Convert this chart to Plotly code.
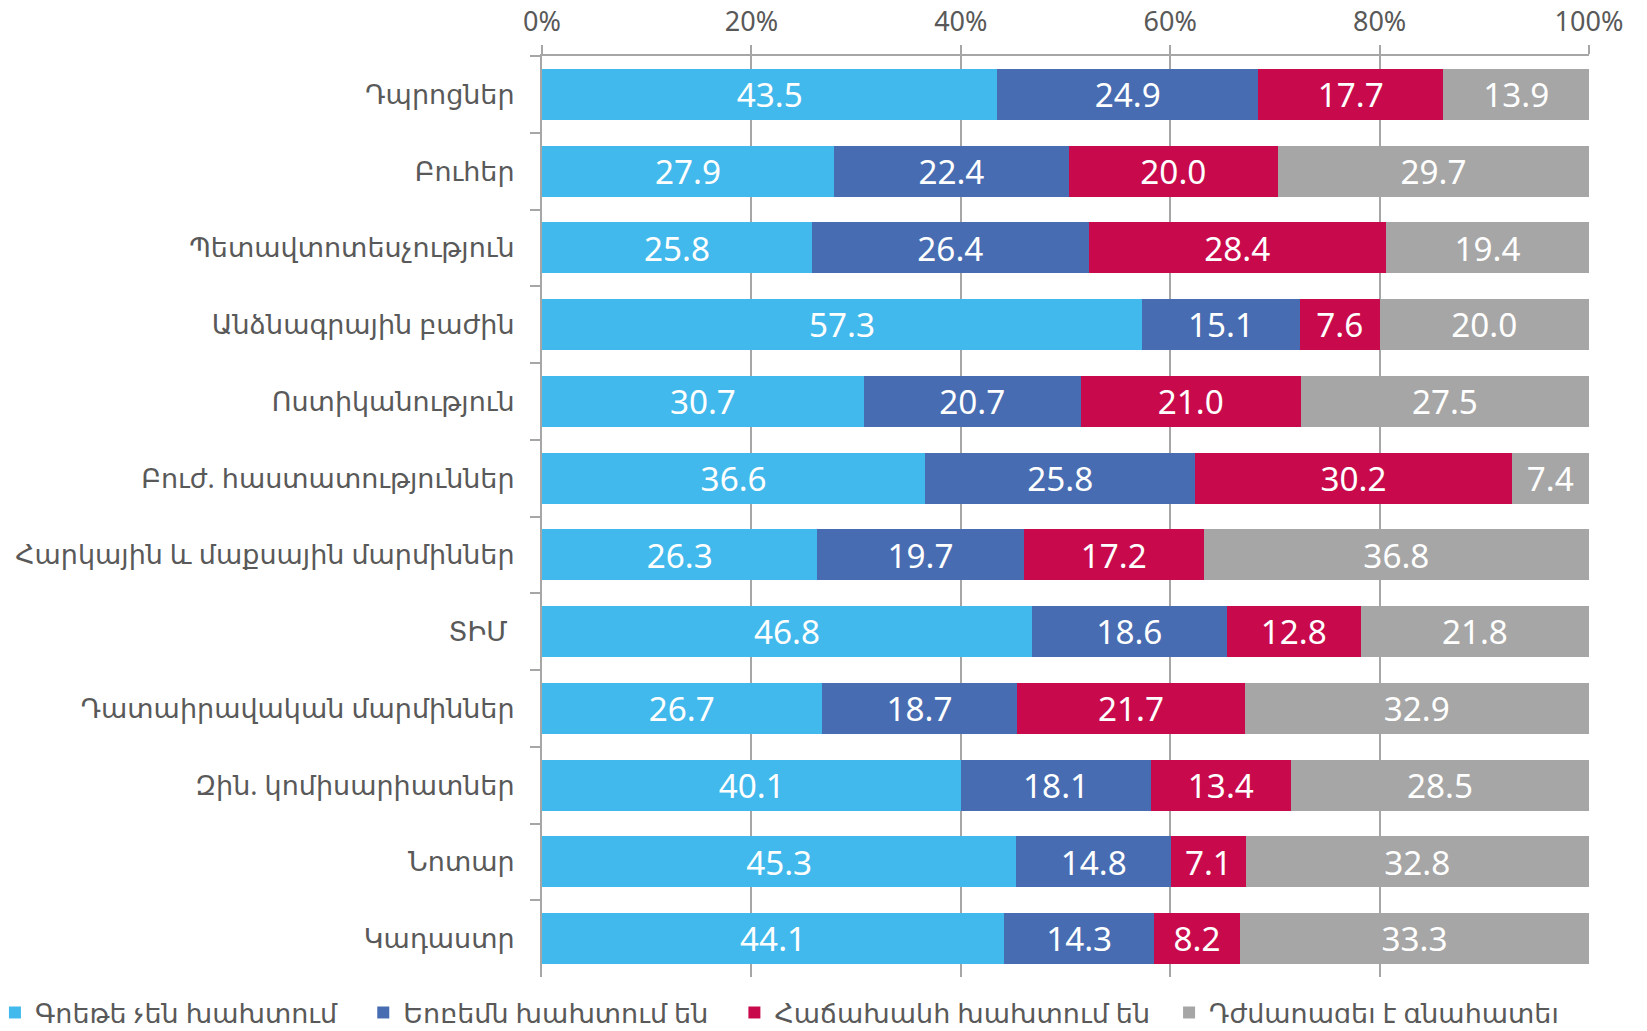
import plotly.graph_objects as go

categories = [
    "Դպրոցներ",
    "Բուհեր",
    "Պետավտոտեսչություն",
    "Անձնագրային բաժին",
    "Ոստիկանություն",
    "Բուժ. հաստատություններ",
    "Հարկային և մաքսային մարմիններ",
    "ՏԻՄ\u00a0",
    "Դատաիրավական մարմիններ",
    "Զին. կոմիսարիատներ",
    "Նոտար",
    "Կադաստր",
]

series_names = [
    "Գրեթե չեն խախտում",
    "Երբեմն խախտում են",
    "Հաճախակի խախտում են",
    "Դժվարացել է գնահատել",
]
# trailing non-breaking spaces widen the gap between legend entries
legend_pad = ["\u00a0\u00a0\u00a0", "\u00a0\u00a0\u00a0", "\u00a0\u00a0", ""]

almost_never = [43.5, 27.9, 25.8, 57.3, 30.7, 36.6, 26.3, 46.8, 26.7, 40.1, 45.3, 44.1]
sometimes = [24.9, 22.4, 26.4, 15.1, 20.7, 25.8, 19.7, 18.6, 18.7, 18.1, 14.8, 14.3]
often = [17.7, 20.0, 28.4, 7.6, 21.0, 30.2, 17.2, 12.8, 21.7, 13.4, 7.1, 8.2]
hard_to_say = [13.9, 29.7, 19.4, 20.0, 27.5, 7.4, 36.8, 21.8, 32.9, 28.5, 32.8, 33.3]

tick_vals = [0, 20, 40, 60, 80, 100]
tick_text = ["0%", "20%", "40%", "60%", "80%", "100%"]

colors = ["#42B9EC", "#476CB2", "#C80A4C", "#A6A6A6"]
FONT = "Noto Sans, DejaVu Sans, sans-serif"

fig = go.Figure()
for name, pad, vals, col in zip(series_names, legend_pad,
                                [almost_never, sometimes, often, hard_to_say], colors):
    fig.add_trace(go.Bar(
        y=categories,
        x=vals,
        name=name + pad,
        orientation="h",
        marker=dict(color=col, line=dict(width=0)),
        text=[f"{v:.1f}" for v in vals],
        textposition="inside",
        insidetextanchor="middle",
        textangle=0,
        textfont=dict(color="white", size=34, family=FONT),
        hoverinfo="x+y+name",
    ))

# page body has an 8px margin, so the figure is sized to fit the window
fig.update_layout(
    width=1631,
    height=1015,
    barmode="stack",
    barnorm="percent",
    bargap=0.335,
    plot_bgcolor="white",
    paper_bgcolor="white",
    margin=dict(l=534, r=50, t=48, b=46, autoexpand=False),
    font=dict(family=FONT, color="#595959", size=27),
    uniformtext=dict(minsize=30, mode="show"),
    legend=dict(
        orientation="h",
        x=-0.5225, xanchor="left",
        y=-0.039, yanchor="middle",
        font=dict(size=27, color="#595959", family=FONT),
        itemwidth=30,
        traceorder="normal",
    ),
    showlegend=True,
)

fig.update_xaxes(
    side="top",
    range=[0, 100],
    tickvals=tick_vals,
    ticktext=tick_text,
    tickfont=dict(size=27, color="#595959"),
    ticklabelstandoff=3,
    showgrid=True,
    gridcolor="#A6A6A6",
    gridwidth=2,
    showline=True,
    linecolor="#A6A6A6",
    linewidth=2,
    ticks="outside",
    ticklen=9,
    tickwidth=2,
    tickcolor="#A6A6A6",
    zeroline=False,
    fixedrange=True,
)

fig.update_yaxes(
    autorange="reversed",
    showline=True,
    linecolor="#A6A6A6",
    linewidth=2,
    ticks="outside",
    tickson="boundaries",
    ticklen=10,
    tickwidth=2,
    tickcolor="#A6A6A6",
    tickfont=dict(size=27, color="#595959"),
    ticklabelstandoff=20,
    showgrid=False,
    fixedrange=True,
)

fig.write_html("out.html")
